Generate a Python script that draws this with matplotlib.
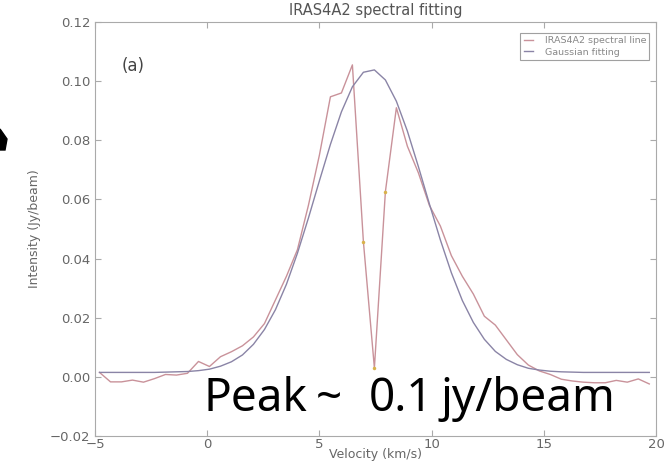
import matplotlib
matplotlib.use('Agg')
import matplotlib.pyplot as plt
from matplotlib.patches import Polygon

# channel velocities (km/s)
velocity = [-4.80, -4.31, -3.82, -3.33, -2.84, -2.35, -1.86, -1.37, -0.88, -0.39,
            0.10, 0.59, 1.08, 1.57, 2.06, 2.55, 3.04, 3.53, 4.02, 4.51,
            5.00, 5.49, 5.98, 6.47, 6.96, 7.45, 7.94, 8.43, 8.92, 9.41,
            9.90, 10.39, 10.88, 11.37, 11.86, 12.35, 12.84, 13.33, 13.82, 14.31,
            14.80, 15.29, 15.78, 16.27, 16.76, 17.25, 17.74, 18.23, 18.72, 19.21,
            19.70]

# observed spectrum (Jy/beam)
spectrum = [0.0015, -0.0017, -0.0017, -0.0011, -0.0018, -0.0006, 0.0008, 0.0006, 0.0012, 0.0052,
            0.0035, 0.0068, 0.0085, 0.0105, 0.0135, 0.0180, 0.0260, 0.0340, 0.0430, 0.0580,
            0.0750, 0.0947, 0.0960, 0.1055, 0.0457, 0.0030, 0.0626, 0.0910, 0.0780, 0.0690,
            0.0580, 0.0510, 0.0410, 0.0340, 0.0280, 0.0205, 0.0175, 0.0125, 0.0075, 0.0040,
            0.0020, 0.0008, -0.0008, -0.0014, -0.0018, -0.0020, -0.0020, -0.0012, -0.0018, -0.0007,
            -0.0024]

# gaussian fit (Jy/beam)
gauss_fit = [0.0015, 0.0015, 0.0015, 0.0015, 0.0015, 0.0015, 0.0016, 0.0017, 0.0018, 0.0021,
             0.0026, 0.0036, 0.0051, 0.0074, 0.0110, 0.0160, 0.0227, 0.0313, 0.0418, 0.0537,
             0.0663, 0.0786, 0.0896, 0.0981, 0.1030, 0.1038, 0.1004, 0.0932, 0.0831, 0.0711,
             0.0585, 0.0463, 0.0352, 0.0258, 0.0184, 0.0127, 0.0086, 0.0059, 0.0041, 0.0029,
             0.0023, 0.0019, 0.0017, 0.0016, 0.0015, 0.0015, 0.0015, 0.0015, 0.0015, 0.0015,
             0.0015]

# flagged channels in the absorption dip
dip_v = [6.96, 7.45, 7.94]
dip_i = [0.0457, 0.0030, 0.0626]

x_ticks = [-5, 0, 5, 10, 15, 20]
x_labels = ['\u22125', '0', '5', '10', '15', '20']
y_ticks = [-0.02, 0.00, 0.02, 0.04, 0.06, 0.08, 0.10, 0.12]
y_labels = ['\u22120.02', '0.00', '0.02', '0.04', '0.06', '0.08', '0.10', '0.12']

fig = plt.figure(figsize=(6.72, 4.72), dpi=100)
ax = fig.add_axes([0.1414, 0.0763, 0.8348, 0.8771])

ax.plot(velocity, spectrum, '-', color='#c9929a', lw=1.0, label='IRAS4A2 spectral line')
ax.plot(velocity, gauss_fit, '-', color='#8a84a6', lw=1.0, label='Gaussian fitting')
ax.plot(dip_v, dip_i, 'o', color='#d9b24a', ms=2.5, mec='none')

ax.set_xlim(-5, 20)
ax.set_ylim(-0.02, 0.12)
ax.set_xticks(x_ticks)
ax.set_xticklabels(x_labels)
ax.set_yticks(y_ticks)
ax.set_yticklabels(y_labels)
ax.tick_params(direction='in', top=True, right=True, labelsize=9.5,
               colors='#aaaaaa', labelcolor='#666666', length=4)
ax.tick_params(axis='x', pad=1.5)
for s in ax.spines.values():
    s.set_color('#aaaaaa')

ax.set_title('IRAS4A2 spectral fitting', fontsize=10.5, color='#555555', pad=5)
ax.set_xlabel('Velocity (km/s)', fontsize=9, color='#666666', labelpad=-2)
ax.set_ylabel('Intensity (Jy/beam)', fontsize=9, color='#666666', labelpad=6)

ax.text(-3.3, 0.105, '(a)', fontsize=12, color='#444444', ha='center', va='center')

leg = ax.legend(loc='upper right', fontsize=6.8, handlelength=1.0, frameon=True,
                fancybox=False, borderpad=0.35, labelspacing=0.25, handletextpad=1.2,
                bbox_to_anchor=(0.9965, 0.985))
leg.get_frame().set_edgecolor('#888888')
leg.get_frame().set_linewidth(0.8)
for t in leg.get_texts():
    t.set_color('#888888')

# big annotation, word by word to match its wide spacing
peak_words = ['Peak', '~', '0.1', 'jy/beam']
word_x = [203, 316, 369, 441]
for w, px in zip(peak_words, word_x):
    fig.text(px / 672, 1 - 411 / 472, w, fontsize=33, fontweight='light',
             family=['Noto Sans', 'DejaVu Sans'], color='black', va='baseline', ha='left')

# piece of an arrow cut off at the left edge
blob = Polygon([(0, 1 - 129 / 472), (7 / 672, 1 - 139 / 472), (5 / 672, 1 - 150 / 472), (0, 1 - 150 / 472)],
               closed=True, color='black', transform=fig.transFigure)
fig.patches.append(blob)

fig.savefig('out.png', dpi=100)
